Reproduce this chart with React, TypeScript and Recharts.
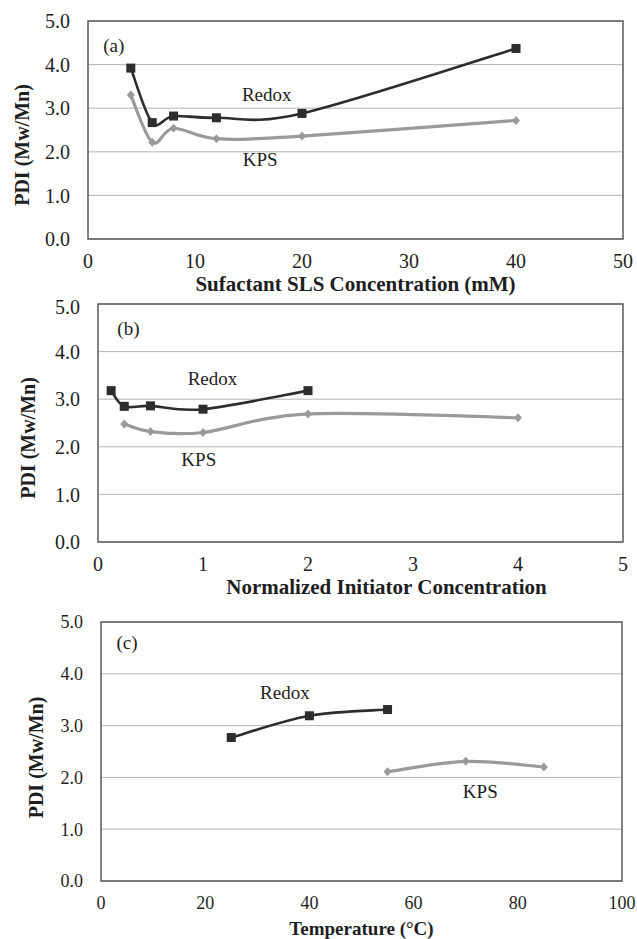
import { LineChart, Line, XAxis, YAxis, CartesianGrid, ReferenceArea, ReferenceDot } from 'recharts'

// (a) surfactant concentration series
const slsConc = [4, 6, 8, 12, 20, 40]
const redoxSls = [3.92, 2.67, 2.82, 2.78, 2.88, 4.37]
const kpsSls = [3.3, 2.22, 2.54, 2.3, 2.36, 2.72]

// (b) initiator concentration series
const initRedox = [0.125, 0.25, 0.5, 1, 2]
const redoxInit = [3.18, 2.85, 2.86, 2.79, 3.18]
const initKps = [0.25, 0.5, 1, 2, 4]
const kpsInit = [2.48, 2.32, 2.3, 2.69, 2.61]

// (c) temperature series
const tempRedox = [25, 40, 55]
const redoxTemp = [2.77, 3.19, 3.31]
const tempKps = [55, 70, 85]
const kpsTemp = [2.11, 2.31, 2.2]

const yTicks = [0, 1, 2, 3, 4, 5]
const yMinorTicks = [0.2, 0.4, 0.6, 0.8, 1.2, 1.4, 1.6, 1.8, 2.2, 2.4, 2.6, 2.8, 3.2, 3.4, 3.6, 3.8, 4.2, 4.4, 4.6, 4.8]
const slsTicks = [0, 10, 20, 30, 40, 50]
const initTicks = [0, 1, 2, 3, 4, 5]
const tempTicks = [0, 20, 40, 60, 80, 100]

const toPoints = (xs: number[], ys: number[]) => xs.map((x, i) => ({ x, y: ys[i] }))

// Excel-style smoothed line (bezier, control points from neighbours / 6)
function excelSmooth(context: any) {
  let pts: number[][] = []
  return {
    areaStart() {},
    areaEnd() {},
    lineStart() {
      pts = []
    },
    point(x: number, y: number) {
      pts.push([+x, +y])
    },
    lineEnd() {
      if (!pts.length) return
      context.moveTo(pts[0][0], pts[0][1])
      for (let i = 0; i < pts.length - 1; i++) {
        const p0 = pts[Math.max(i - 1, 0)]
        const p1 = pts[i]
        const p2 = pts[i + 1]
        const p3 = pts[Math.min(i + 2, pts.length - 1)]
        context.bezierCurveTo(
          p1[0] + (p2[0] - p0[0]) / 6,
          p1[1] + (p2[1] - p0[1]) / 6,
          p2[0] - (p3[0] - p1[0]) / 6,
          p2[1] - (p3[1] - p1[1]) / 6,
          p2[0],
          p2[1]
        )
      }
    },
  }
}

const FONT = "'Liberation Serif', 'Times New Roman', serif"
const REDOX = '#2d2d2d'
const KPS = '#9a9a9a'
const TEXT = '#1e1e1e'

const Square = (props: any) => {
  const { cx, cy } = props
  return <rect key={`s-${cx}-${cy}`} x={cx - 4.5} y={cy - 4.5} width={9} height={9} fill={REDOX} />
}

const Diamond = (props: any) => {
  const { cx, cy } = props
  return (
    <path
      key={`d-${cx}-${cy}`}
      d={`M${cx},${cy - 4.5}L${cx + 4},${cy}L${cx},${cy + 4.5}L${cx - 4},${cy}Z`}
      fill={KPS}
    />
  )
}

interface Note {
  text: string
  x: number
  y: number
}

interface PanelProps {
  top: number
  height: number
  margin: { top: number; right: number; bottom: number; left: number }
  yAxisWidth: number
  xAxisHeight: number
  xDomain: number[]
  xTicks: number[]
  title: string
  titleDx: number
  titleOffset: number
  titleSize: number
  yLabelDx: number
  yLabelDy: number
  tickSize: number
  redox: { x: number; y: number }[]
  kps: { x: number; y: number }[]
  notes: Note[]
}

function Panel(p: PanelProps) {
  return (
    <div style={{ position: 'absolute', left: 0, top: p.top }}>
      <LineChart width={637} height={p.height} margin={p.margin} style={{ fontFamily: FONT }}>
        <CartesianGrid horizontal vertical={false} stroke="#b4b4b4" strokeWidth={1} />
        <XAxis
          type="number"
          dataKey="x"
          domain={p.xDomain}
          ticks={p.xTicks}
          height={p.xAxisHeight}
          axisLine={false}
          tickLine={false}
          tickSize={0}
          tickMargin={15}
          tick={{ fill: TEXT, fontSize: p.tickSize, fontFamily: FONT }}
          label={{
            value: p.title,
            position: 'insideBottom',
            offset: p.titleOffset,
            dx: p.titleDx,
            fill: TEXT,
            fontSize: p.titleSize,
            fontWeight: 'bold',
            fontFamily: FONT,
          }}
        />
        <XAxis
          xAxisId="inner"
          type="number"
          dataKey="x"
          domain={p.xDomain}
          ticks={p.xTicks}
          mirror
          height={1}
          axisLine={false}
          tick={false}
          tickSize={5}
          tickLine={{ stroke: '#666' }}
        />
        <YAxis
          domain={[0, 5]}
          ticks={yTicks}
          width={p.yAxisWidth}
          axisLine={false}
          tickLine={false}
          tickSize={0}
          tickMargin={18}
          tickFormatter={(v) => Number(v).toFixed(1)}
          tick={{ fill: TEXT, fontSize: p.tickSize, fontFamily: FONT }}
          label={{
            value: 'PDI (Mw/Mn)',
            angle: -90,
            position: 'center',
            dx: p.yLabelDx,
            dy: p.yLabelDy,
            fill: TEXT,
            fontSize: 20,
            fontWeight: 'bold',
            fontFamily: FONT,
          }}
        />
        <YAxis
          yAxisId="minor"
          domain={[0, 5]}
          ticks={yMinorTicks}
          mirror
          width={1}
          axisLine={false}
          tick={false}
          tickSize={4}
          tickLine={{ stroke: '#666' }}
        />
        <ReferenceArea
          x1={p.xDomain[0]}
          x2={p.xDomain[1]}
          y1={0}
          y2={5}
          fill="none"
          stroke="#5a5a5a"
          strokeWidth={1.5}
          ifOverflow="visible"
        />
        <Line
          data={p.kps}
          dataKey="y"
          type={excelSmooth as any}
          stroke={KPS}
          strokeWidth={3.2}
          dot={Diamond}
          activeDot={false}
          isAnimationActive={false}
        />
        <Line
          data={p.redox}
          dataKey="y"
          type={excelSmooth as any}
          stroke={REDOX}
          strokeWidth={2.6}
          dot={Square}
          activeDot={false}
          isAnimationActive={false}
        />
        {p.notes.map((n) => (
          <ReferenceDot
            key={n.text}
            x={n.x}
            y={n.y}
            r={0}
            stroke="none"
            fill="none"
            ifOverflow="visible"
            label={{ value: n.text, position: 'center', fill: TEXT, fontSize: 19, fontFamily: FONT }}
          />
        ))}
      </LineChart>
    </div>
  )
}

const notesSls: Note[] = [
  { text: '(a)', x: 2.4, y: 4.45 },
  { text: 'Redox', x: 16.7, y: 3.32 },
  { text: 'KPS', x: 16.1, y: 1.83 },
]
const notesInit: Note[] = [
  { text: '(b)', x: 0.29, y: 4.5 },
  { text: 'Redox', x: 1.09, y: 3.44 },
  { text: 'KPS', x: 0.96, y: 1.73 },
]
const notesTemp: Note[] = [
  { text: '(c)', x: 5, y: 4.61 },
  { text: 'Redox', x: 35.3, y: 3.65 },
  { text: 'KPS', x: 72.8, y: 1.74 },
]

export default function App() {
  return (
    <div
      style={{
        position: 'absolute',
        left: 0,
        top: 0,
        width: 637,
        height: 939,
        background: '#fff',
        fontFamily: FONT,
        overflow: 'hidden',
      }}
    >
      <Panel
        top={0}
        height={300}
        margin={{ top: 21, right: 14, bottom: 0, left: 0 }}
        yAxisWidth={88}
        xAxisHeight={61}
        xDomain={[0, 50]}
        xTicks={slsTicks}
        title="Sufactant SLS Concentration (mM)"
        titleDx={0}
        titleOffset={9}
        titleSize={21}
        yLabelDx={-22}
        yLabelDy={15}
        tickSize={20}
        redox={toPoints(slsConc, redoxSls)}
        kps={toPoints(slsConc, kpsSls)}
        notes={notesSls}
      />
      <Panel
        top={295}
        height={305}
        margin={{ top: 9, right: 14, bottom: 0, left: 0 }}
        yAxisWidth={98}
        xAxisHeight={58}
        xDomain={[0, 5]}
        xTicks={initTicks}
        title="Normalized Initiator Concentration"
        titleDx={26}
        titleOffset={6}
        titleSize={21}
        yLabelDx={-21}
        yLabelDy={15}
        tickSize={20}
        redox={toPoints(initRedox, redoxInit)}
        kps={toPoints(initKps, kpsInit)}
        notes={notesInit}
      />
      <Panel
        top={605}
        height={334}
        margin={{ top: 17, right: 15, bottom: 0, left: 0 }}
        yAxisWidth={101}
        xAxisHeight={58}
        xDomain={[0, 100]}
        xTicks={tempTicks}
        title="Temperature (°C)"
        titleDx={0}
        titleOffset={4}
        titleSize={19}
        yLabelDx={-15}
        yLabelDy={6}
        tickSize={18}
        redox={toPoints(tempRedox, redoxTemp)}
        kps={toPoints(tempKps, kpsTemp)}
        notes={notesTemp}
      />
    </div>
  )
}
